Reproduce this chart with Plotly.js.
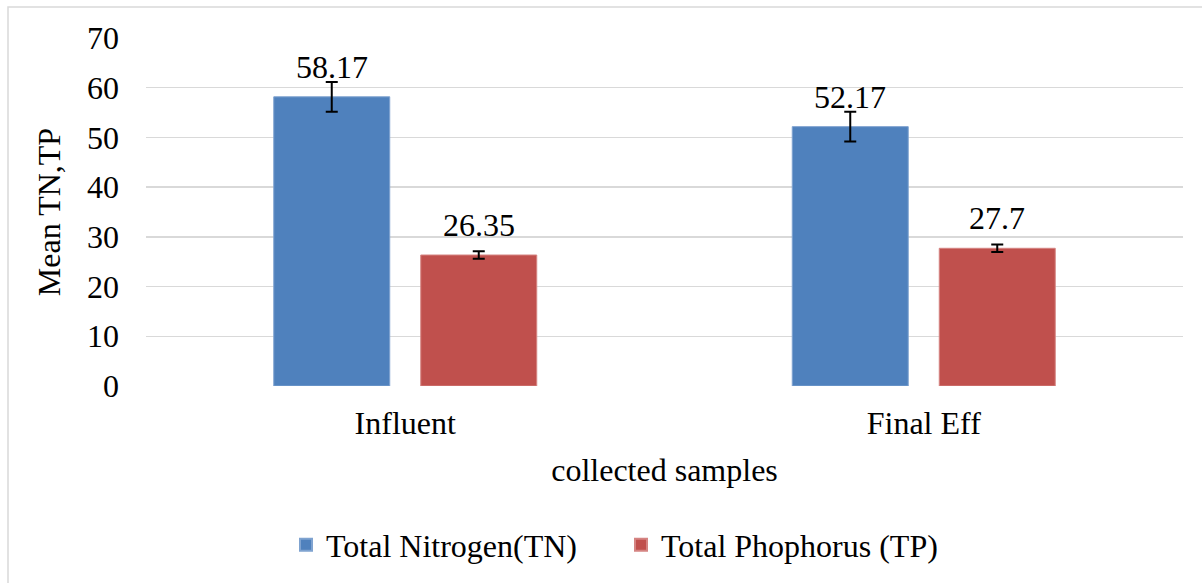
<!DOCTYPE html>
<html>
<head>
<meta charset="utf-8">
<script src="https://cdn.plot.ly/plotly-3.0.1.min.js"></script>
<style>
html,body{margin:0;padding:0;background:#fff;}
#chart{width:1202px;height:583px;}
</style>
</head>
<body>
<div id="chart"></div>
<script>
// Data
var categories = ["Influent", "Final Eff"];
var seriesNames = ["Total Nitrogen(TN)", "Total Phophorus (TP)"];
var tnValues = [58.17, 52.17];
var tpValues = [26.35, 27.7];
var tnErrors = [3.0, 3.0];
var tpErrors = [0.75, 0.75];
var yTicks = [0, 10, 20, 30, 40, 50, 60, 70];

var FONT = "'Liberation Serif', 'Times New Roman', serif";
var FS = 32;
var colors = ["#4F81BD", "#C0504D"];

var W = 1202, H = 583;
var margin = {l: 146, r: 19, t: 38, b: 196};
var plotW = W - margin.l - margin.r;
var plotH = H - margin.t - margin.b;
var bargap = 0.433, bargroupgap = 0.211;

function errBar(arr) {
  return {type: "data", array: arr, visible: true, color: "#000000", thickness: 2, width: 6};
}

var traces = [
  {type: "bar", name: seriesNames[0], x: categories, y: tnValues,
   marker: {color: colors[0], line: {color: "#7fa3d0", width: 1}}, error_y: errBar(tnErrors), hoverinfo: "y"},
  {type: "bar", name: seriesNames[1], x: categories, y: tpValues,
   marker: {color: colors[1], line: {color: "#d58482", width: 1}}, error_y: errBar(tpErrors), hoverinfo: "y"}
];

var catW = plotW / categories.length;
var slotW = catW * (1 - bargap) / 2;
var annotations = [];
[tnValues, tpValues].forEach(function (vals, si) {
  var shift = (si === 0 ? -1 : 1) * slotW / 2;
  vals.forEach(function (v, i) {
    annotations.push({
      x: categories[i], y: v, xref: "x", yref: "y",
      text: String(v), showarrow: false,
      xanchor: "center", yanchor: "bottom",
      xshift: shift, yshift: 10,
      font: {family: FONT, size: FS, color: "#000000"}
    });
  });
});

function px2paperX(px) { return (px - margin.l) / plotW; }
function px2paperY(py) { return (H - margin.b - py) / plotH; }

var layout = {
  width: W, height: H,
  margin: margin,
  paper_bgcolor: "#ffffff",
  plot_bgcolor: "#ffffff",
  bargap: bargap,
  bargroupgap: bargroupgap,
  barmode: "group",
  font: {family: FONT, size: FS, color: "#000000"},
  xaxis: {
    type: "category",
    showgrid: false, zeroline: false, showline: false,
    ticks: "", ticklabelstandoff: 15,
    tickfont: {family: FONT, size: FS, color: "#000000"},
    title: {text: "collected samples", font: {family: FONT, size: FS, color: "#000000"}, standoff: 18}
  },
  yaxis: {
    range: [0, 70],
    tickvals: yTicks,
    ticktext: yTicks.map(String),
    showgrid: true, gridcolor: "#d9d9d9", gridwidth: 1.5,
    zeroline: false, showline: false, ticks: "",
    ticklabelstandoff: 26,
    tickfont: {family: FONT, size: FS, color: "#000000"},
    title: {text: "Mean TN,TP", font: {family: FONT, size: FS, color: "#000000"}, standoff: 16}
  },
  showlegend: true,
  legend: {
    orientation: "h",
    x: px2paperX(621), xanchor: "center",
    y: px2paperY(545), yanchor: "middle",
    font: {family: FONT, size: FS, color: "#000000"},
    itemwidth: 30, itemsizing: "constant", tracegroupgap: 0,
    entrywidth: 290, entrywidthmode: "pixels",
    bgcolor: "rgba(0,0,0,0)"
  },
  annotations: annotations,
  shapes: [{
    type: "rect", xref: "paper", yref: "paper", layer: "below",
    x0: px2paperX(8), x1: px2paperX(1240),
    y0: px2paperY(620), y1: px2paperY(7),
    line: {color: "#d9d9d9", width: 1.5}, fillcolor: "rgba(0,0,0,0)"
  }]
};

Plotly.newPlot("chart", traces, layout, {displayModeBar: false, staticPlot: true});
</script>
</body>
</html>
